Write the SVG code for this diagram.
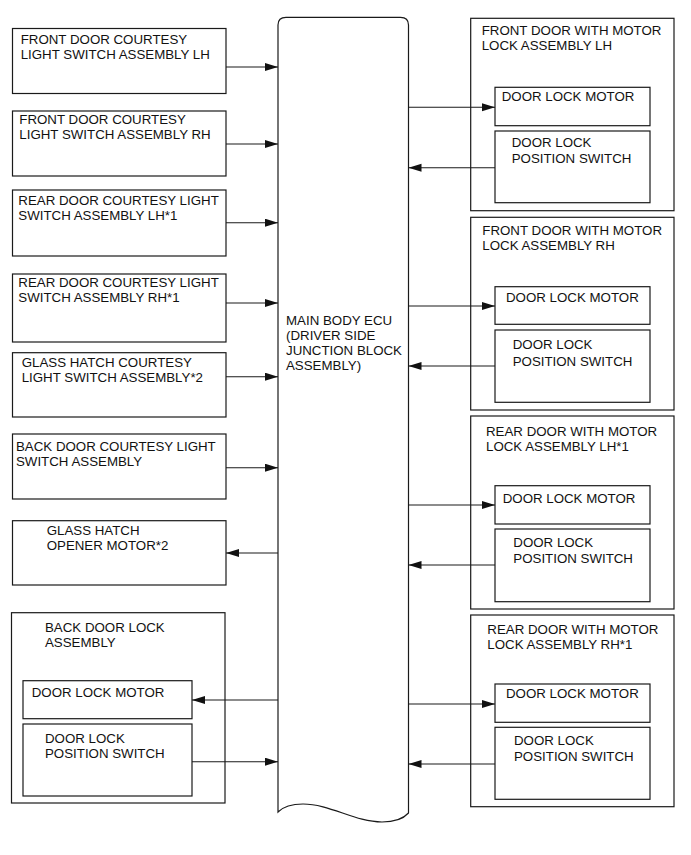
<svg xmlns="http://www.w3.org/2000/svg" width="691" height="855" viewBox="0 0 691 855">
<defs>
<marker id="ah" markerUnits="userSpaceOnUse" markerWidth="14" markerHeight="9" refX="13" refY="4" orient="auto">
<path d="M0,0 L13,4 L0,8 Z" fill="#111"/>
</marker>
<style>
.b{fill:#fff;stroke:#1a1a1a;stroke-width:1.2}
.t{font-family:"Liberation Sans",Arial,sans-serif;font-size:13.3px;fill:#111}
.c{fill:none;stroke:#1a1a1a;stroke-width:1.1;marker-end:url(#ah)}
</style>
</defs>
<rect width="691" height="855" fill="#fff"/>

<g id="ecu">
<path class="b" d="M278,812 L278,25 Q278,17.3 286,17.3 L400.5,17.3 Q408.5,17.3 408.5,25 L408.5,813 C404,818 395,822 382,822 C355,822 330,804 303,804 C292,804 284,806 278,812 Z"/>
<text class="t"><tspan x="286" y="325">MAIN BODY ECU</tspan><tspan x="286" y="340">(DRIVER SIDE</tspan><tspan x="286" y="355">JUNCTION BLOCK</tspan><tspan x="286" y="370">ASSEMBLY)</tspan></text>
</g>

<g id="fd-courtesy-lh">
<rect class="b" x="12.5" y="28.5" width="213.5" height="65"/>
<text class="t"><tspan x="20.7" y="44.3">FRONT DOOR COURTESY</tspan><tspan x="20.7" y="59.3">LIGHT SWITCH ASSEMBLY LH</tspan></text>
</g>
<g id="fd-courtesy-rh">
<rect class="b" x="12.5" y="111" width="213.5" height="65"/>
<text class="t"><tspan x="19.3" y="124.3">FRONT DOOR COURTESY</tspan><tspan x="19.3" y="139.3">LIGHT SWITCH ASSEMBLY RH</tspan></text>
</g>
<g id="rd-courtesy-lh">
<rect class="b" x="12.5" y="190" width="213.5" height="66"/>
<text class="t"><tspan x="18.3" y="205">REAR DOOR COURTESY LIGHT</tspan><tspan x="18.3" y="220">SWITCH ASSEMBLY LH*1</tspan></text>
</g>
<g id="rd-courtesy-rh">
<rect class="b" x="12.5" y="274" width="213.5" height="68"/>
<text class="t"><tspan x="18.3" y="287.3">REAR DOOR COURTESY LIGHT</tspan><tspan x="18.3" y="302.3">SWITCH ASSEMBLY RH*1</tspan></text>
</g>
<g id="gh-courtesy">
<rect class="b" x="12.5" y="352.7" width="213.5" height="64.3"/>
<text class="t"><tspan x="21.7" y="366.7">GLASS HATCH COURTESY</tspan><tspan x="21.7" y="381.7">LIGHT SWITCH ASSEMBLY*2</tspan></text>
</g>
<g id="bd-courtesy">
<rect class="b" x="12.5" y="434" width="213.5" height="65"/>
<text class="t"><tspan x="16" y="450.7">BACK DOOR COURTESY LIGHT</tspan><tspan x="16" y="465.7">SWITCH ASSEMBLY</tspan></text>
</g>
<g id="gh-opener">
<rect class="b" x="12.5" y="520.7" width="213.5" height="64.3"/>
<text class="t"><tspan x="46.7" y="535">GLASS HATCH</tspan><tspan x="46.7" y="550">OPENER MOTOR*2</tspan></text>
</g>
<g id="bd-lock">
<rect class="b" x="11.5" y="612.7" width="213.5" height="190.3"/>
<text class="t"><tspan x="45" y="631.7">BACK DOOR LOCK</tspan><tspan x="45" y="646.7">ASSEMBLY</tspan></text>
<g id="bd-lock-motor">
<rect class="b" x="23" y="680.7" width="169" height="38"/>
<text class="t" x="31.7" y="696.7">DOOR LOCK MOTOR</text>
</g>
<g id="bd-lock-switch">
<rect class="b" x="23" y="724" width="169" height="72"/>
<text class="t"><tspan x="45" y="743.3">DOOR LOCK</tspan><tspan x="45" y="758.3">POSITION SWITCH</tspan></text>
</g>
</g>

<g id="fd-lock-lh">
<rect class="b" x="470.7" y="18.3" width="203.3" height="192.4"/>
<text class="t"><tspan x="481.7" y="35">FRONT DOOR WITH MOTOR</tspan><tspan x="481.7" y="50">LOCK ASSEMBLY LH</tspan></text>
<g id="fd-lh-motor">
<rect class="b" x="495" y="87.3" width="155" height="38.4"/>
<text class="t" x="501.7" y="100.7">DOOR LOCK MOTOR</text>
</g>
<g id="fd-lh-switch">
<rect class="b" x="495" y="131" width="155" height="71.7"/>
<text class="t"><tspan x="511.7" y="147.3">DOOR LOCK</tspan><tspan x="511.7" y="163.3">POSITION SWITCH</tspan></text>
</g>
</g>
<g id="fd-lock-rh">
<rect class="b" x="470.7" y="217.3" width="203.3" height="192.7"/>
<text class="t"><tspan x="482.3" y="235">FRONT DOOR WITH MOTOR</tspan><tspan x="482.3" y="250">LOCK ASSEMBLY RH</tspan></text>
<g id="fd-rh-motor">
<rect class="b" x="495" y="286.7" width="155" height="37.6"/>
<text class="t" x="506" y="301.7">DOOR LOCK MOTOR</text>
</g>
<g id="fd-rh-switch">
<rect class="b" x="495" y="330" width="155" height="72.3"/>
<text class="t"><tspan x="512.7" y="349.3">DOOR LOCK</tspan><tspan x="512.7" y="365.5">POSITION SWITCH</tspan></text>
</g>
</g>
<g id="rd-lock-lh">
<rect class="b" x="470.7" y="416" width="203.3" height="193"/>
<text class="t"><tspan x="486" y="435.7">REAR DOOR WITH MOTOR</tspan><tspan x="486" y="450.7">LOCK ASSEMBLY LH*1</tspan></text>
<g id="rd-lh-motor">
<rect class="b" x="495" y="485.7" width="155" height="38.3"/>
<text class="t" x="502.7" y="503.3">DOOR LOCK MOTOR</text>
</g>
<g id="rd-lh-switch">
<rect class="b" x="495" y="529" width="155" height="72.7"/>
<text class="t"><tspan x="513.3" y="546.7">DOOR LOCK</tspan><tspan x="513.3" y="562.7">POSITION SWITCH</tspan></text>
</g>
</g>
<g id="rd-lock-rh">
<rect class="b" x="470.7" y="615" width="203.3" height="191.7"/>
<text class="t"><tspan x="487.3" y="634">REAR DOOR WITH MOTOR</tspan><tspan x="487.3" y="649">LOCK ASSEMBLY RH*1</tspan></text>
<g id="rd-rh-motor">
<rect class="b" x="495" y="684" width="155" height="38.3"/>
<text class="t" x="506" y="698.3">DOOR LOCK MOTOR</text>
</g>
<g id="rd-rh-switch">
<rect class="b" x="495" y="727.3" width="155" height="72"/>
<text class="t"><tspan x="514" y="745">DOOR LOCK</tspan><tspan x="514" y="760.7">POSITION SWITCH</tspan></text>
</g>
</g>

<g id="connectors">
<path class="c" d="M226,67 H278"/>
<path class="c" d="M226,144 H278"/>
<path class="c" d="M226,222.7 H278"/>
<path class="c" d="M226,303 H278"/>
<path class="c" d="M226,376.7 H278"/>
<path class="c" d="M226,467.7 H278"/>
<path class="c" d="M278,553 H226"/>
<path class="c" d="M278,700 H192"/>
<path class="c" d="M192,761.7 H278"/>
<path class="c" d="M408.5,107.3 H495"/>
<path class="c" d="M495,167.7 H408.5"/>
<path class="c" d="M408.5,306 H495"/>
<path class="c" d="M495,366 H408.5"/>
<path class="c" d="M408.5,505 H495"/>
<path class="c" d="M495,565 H408.5"/>
<path class="c" d="M408.5,704 H495"/>
<path class="c" d="M495,764 H408.5"/>
</g>
</svg>
